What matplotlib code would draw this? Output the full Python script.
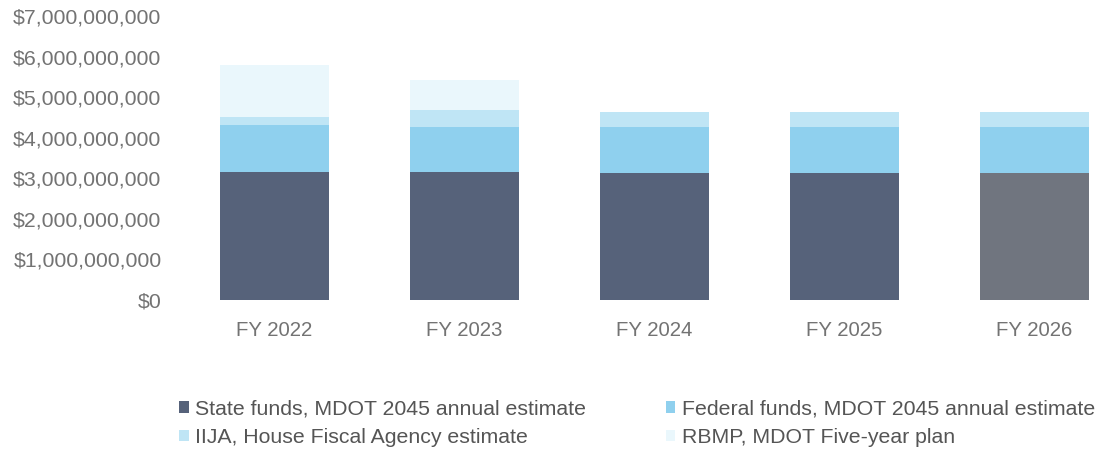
import numpy as np
import matplotlib.pyplot as plt
from matplotlib.ticker import FuncFormatter

plt.rcParams['font.family'] = ['Liberation Sans', 'DejaVu Sans']

# Datos (miles de millones de dólares)
years = ['FY 2022', 'FY 2023', 'FY 2024', 'FY 2025', 'FY 2026']
state = [3.15, 3.15, 3.13, 3.13, 3.13]
federal = [1.16, 1.11, 1.13, 1.13, 1.13]
iija = [0.20, 0.42, 0.37, 0.37, 0.37]
rbmp = [1.27, 0.74, 0.0, 0.0, 0.0]
labels = ['State funds, MDOT 2045 annual estimate',
          'Federal funds, MDOT 2045 annual estimate',
          'IIJA, House Fiscal Agency estimate',
          'RBMP, MDOT Five-year plan']

# colores
c_state = ['#56627a', '#56627a', '#56627a', '#56627a', '#70757f']
c_fed = '#8fd0ee'
c_iija = '#bfe5f5'
c_rbmp = '#eaf7fc'
txt = '#737373'

fig = plt.figure(figsize=(11.01, 4.53), dpi=100)
ax = fig.add_axes([0.163, 0.3377, 0.837, 0.627])

x = np.arange(len(years))
w = 0.57
b1 = np.array(state)
b2 = b1 + np.array(federal)
b3 = b2 + np.array(iija)
h1 = ax.bar(x, state, w, color=c_state)
h2 = ax.bar(x, federal, w, bottom=b1, color=c_fed)
h3 = ax.bar(x, iija, w, bottom=b2, color=c_iija)
h4 = ax.bar(x, rbmp, w, bottom=b3, color=c_rbmp)

ax.set_xlim(-0.5, 4.35)
ax.set_ylim(0, 7)
ax.set_yticks(np.arange(0, 8, 1))
ax.yaxis.set_major_formatter(FuncFormatter(
    lambda v, p: '$0' if v == 0 else '${:,.0f}'.format(v * 1e9)))
ax.set_xticks(x)
ax.set_xticklabels(years)
ax.tick_params(length=0, labelcolor=txt)
ax.tick_params(axis='y', pad=13, labelsize=15.3)
ax.tick_params(axis='x', pad=15, labelsize=14.7)
for s in ax.spines.values():
    s.set_visible(False)

handles = [h1[0], h3[0], h2[0], h4[0]]
labs = [labels[0], labels[2], labels[1], labels[3]]
fig.legend(handles, labs, loc='upper left', bbox_to_anchor=(0.155, 0.137),
           ncol=2, frameon=False, fontsize=15.3, labelcolor='#555555',
           handlelength=0.45, handleheight=0.45, handletextpad=0.3,
           columnspacing=3.75, labelspacing=0.45, borderaxespad=0)

fig.savefig('out.png', dpi=100)
